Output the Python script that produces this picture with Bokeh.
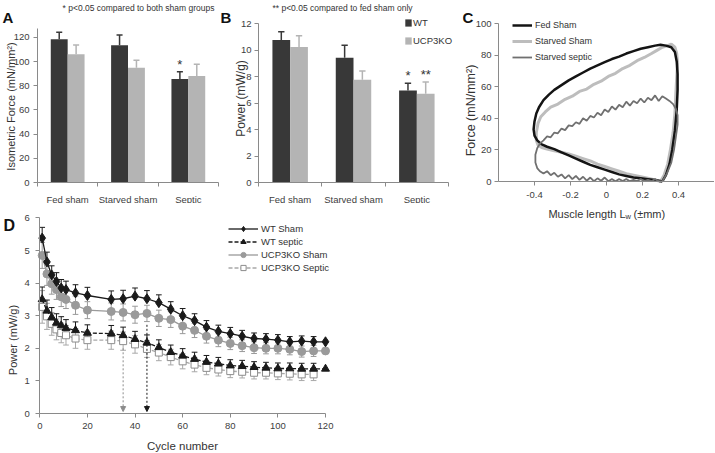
import math
from bokeh.plotting import figure
from bokeh.layouts import row, column
from bokeh.models import (FixedTicker, Label, Legend, LegendItem, Arrow, NormalHead,
                          Range1d, NumeralTickFormatter)
from bokeh.core.properties import value
from bokeh.embed import file_html
from bokeh.resources import INLINE

FONT = "Liberation Sans"
TXT = "#333333"
AX = "#8a8a8a"
DARK = "#383838"
LIGHT = "#b4b4b4"

# ---------------- data ----------------
groups = ["Fed sham", "Starved sham", "Septic"]
force_wt = [118.5, 113.5, 85.5]
force_wt_err = [5.7, 8.5, 6.1]
force_ko = [106.0, 95.0, 88.0]
force_ko_err = [7.7, 6.0, 9.8]
force_sig_wt = ["", "", "*"]
force_ticks = [0, 20, 40, 60, 80, 100, 120]

power_wt = [10.75, 9.42, 6.95]
power_wt_err = [0.62, 0.94, 0.55]
power_ko = [10.23, 7.76, 6.70]
power_ko_err = [0.84, 0.65, 0.88]
power_sig_wt = ["", "", "*"]
power_sig_ko = ["", "", "**"]
power_ticks = [0, 2, 4, 6, 8, 10, 12]

# work loops (panel C)
fed_sham_len = [0.31, 0.33, 0.35, 0.365, 0.38, 0.39, 0.395, 0.395, 0.39, 0.38,
                0.36, 0.33, 0.30, 0.27, 0.23, 0.19, 0.15, 0.11, 0.07, 0.03,
                -0.01, -0.05, -0.09, -0.13, -0.17, -0.21, -0.25, -0.29, -0.32, -0.35,
                -0.375, -0.39, -0.4, -0.405, -0.4, -0.385, -0.36, -0.33, -0.29, -0.25,
                -0.21, -0.17, -0.13, -0.09, -0.05, -0.01, 0.03, 0.07, 0.11, 0.15,
                0.19, 0.23, 0.27, 0.31]
fed_sham_force = [0, 4, 11, 20, 32, 45, 58, 68, 76, 82,
                  85, 86, 86.5, 86, 85, 84, 82.5, 81, 79, 77.5,
                  75.5, 73.5, 71.5, 69, 66.5, 64, 61, 58, 55, 51.5,
                  47, 43, 38, 33, 29, 26, 23.5, 22, 20.5, 18.5,
                  16.5, 14.5, 12.5, 10.5, 9, 7.5, 6, 4.5, 3.5, 2.5,
                  2, 1.5, 1, 0]
starved_sham_len = [0.30, 0.32, 0.34, 0.355, 0.37, 0.38, 0.385, 0.39, 0.395, 0.39,
                    0.38, 0.36, 0.34, 0.31, 0.28, 0.25, 0.21, 0.17, 0.13, 0.09,
                    0.05, 0.01, -0.03, -0.07, -0.11, -0.15, -0.19, -0.23, -0.27, -0.31,
                    -0.34, -0.365, -0.38, -0.39, -0.39, -0.38, -0.36, -0.33, -0.29, -0.25,
                    -0.21, -0.17, -0.13, -0.09, -0.05, -0.01, 0.03, 0.07, 0.11, 0.15,
                    0.19, 0.23, 0.27, 0.30]
starved_sham_force = [0, 4, 11, 20, 31, 43, 55, 66, 75, 81,
                      85, 87, 86, 85, 83, 81, 78.5, 76.5, 73.5, 71.5,
                      68.5, 66.5, 63.5, 61.5, 58.5, 57, 54, 52, 49, 47,
                      44, 41, 37, 31, 26, 23, 21.5, 20.5, 19.5, 18.5,
                      17.5, 16, 14.5, 13, 11, 9.5, 8, 6.5, 5, 4,
                      3, 2, 1, 0]
starved_septic_len = [0.31, 0.335, 0.36, 0.375, 0.385, 0.395, 0.395, 0.385, 0.37, 0.35,
                      0.33, 0.31, 0.29, 0.27, 0.25, 0.23, 0.21, 0.19, 0.17, 0.15,
                      0.13, 0.11, 0.09, 0.07, 0.05, 0.03, 0.01, -0.01, -0.03, -0.05,
                      -0.07, -0.09, -0.11, -0.13, -0.15, -0.17, -0.19, -0.21, -0.23, -0.25,
                      -0.27, -0.29, -0.31, -0.33, -0.35, -0.37, -0.385, -0.395, -0.395, -0.385,
                      -0.37, -0.35, -0.33, -0.31, -0.29, -0.27, -0.25, -0.23, -0.21, -0.19,
                      -0.17, -0.15, -0.13, -0.11, -0.09, -0.07, -0.05, -0.03, -0.01, 0.01,
                      0.03, 0.05, 0.07, 0.09, 0.11, 0.13, 0.15, 0.17, 0.19, 0.21,
                      0.23, 0.25, 0.27, 0.29, 0.31]
starved_septic_force = [0, 5, 12, 20, 28, 36, 42, 46, 49, 51,
                        52.5, 54, 51, 54.5, 51.5, 53, 50, 52.5, 49.5, 51,
                        48, 50.5, 47, 48.5, 45.5, 47.5, 44, 45.5, 42, 43.5,
                        40.5, 41.5, 38.5, 40, 36.5, 37.5, 35, 35.5, 32.5, 33.5,
                        30.5, 31, 28, 28.5, 26, 24, 21, 17, 12, 8.5,
                        6.5, 5, 6.5, 4, 5.5, 3, 4.5, 2, 4, 1.5,
                        3.5, 1, 3, 0.5, 2.5, 0.2, 2, 0.5, 2.5, 0.2,
                        1.5, 0.2, 1.5, 0.3, 1.5, 0.2, 1, 0.3, 1.5, 0.2,
                        1, 0.2, 1.5, 0.2, 0]

# fatigue (panel D)
cycles = [1, 3, 5, 7, 9, 11, 15, 20, 30, 35, 40, 45, 50, 55, 60, 65, 70, 75,
          80, 85, 90, 95, 100, 105, 110, 115, 120]
wt_sham = [5.38, 4.65, 4.25, 4.05, 3.85, 3.8, 3.7, 3.62, 3.5, 3.52, 3.6, 3.52, 3.4,
           3.2, 3.0, 2.85, 2.65, 2.52, 2.45, 2.37, 2.3, 2.28, 2.25, 2.2, 2.22, 2.2, 2.2]
wt_sham_err = [0.33, 0.3, 0.28, 0.27, 0.26, 0.26, 0.25, 0.25, 0.26, 0.26, 0.25, 0.25, 0.24,
               0.23, 0.22, 0.21, 0.2, 0.19, 0.19, 0.18, 0.17, 0.17, 0.17, 0.16, 0.16, 0.16, 0]
ko_sham = [4.85, 4.28, 3.98, 3.8, 3.58, 3.5, 3.32, 3.17, 3.13, 3.1, 3.03, 3.07, 2.92,
           2.88, 2.68, 2.55, 2.37, 2.25, 2.15, 2.08, 2.02, 2.0, 2.0, 1.97, 1.9, 1.92, 1.92]
ko_sham_err = [0.4, 0.35, 0.32, 0.3, 0.3, 0.28, 0.28, 0.26, 0.26, 0.26, 0.26, 0.25, 0.25,
               0.24, 0.23, 0.22, 0.21, 0.2, 0.19, 0.18, 0.18, 0.17, 0.17, 0.17, 0.17, 0.17, 0]
wt_septic = [3.5, 3.15, 2.95, 2.78, 2.7, 2.62, 2.55, 2.47, 2.45, 2.4, 2.28, 2.17, 2.03,
             1.88, 1.77, 1.67, 1.58, 1.53, 1.47, 1.45, 1.42, 1.4, 1.38, 1.38, 1.37, 1.37, 1.37]
wt_septic_err = [0.38, 0.33, 0.3, 0.28, 0.27, 0.26, 0.26, 0.25, 0.25, 0.25, 0.24, 0.24, 0.23,
                 0.22, 0.22, 0.21, 0.2, 0.19, 0.18, 0.18, 0.17, 0.17, 0.17, 0.17, 0.17, 0.17, 0]
ko_septic_cycles = cycles[:-1]
ko_septic = [3.27, 2.98, 2.75, 2.58, 2.47, 2.4, 2.3, 2.25, 2.25, 2.22, 2.12, 1.98, 1.87,
             1.73, 1.6, 1.5, 1.4, 1.35, 1.3, 1.28, 1.25, 1.25, 1.23, 1.22, 1.2, 1.2]
ko_septic_err = [0.5, 0.4, 0.35, 0.32, 0.3, 0.3, 0.3, 0.28, 0.28, 0.28, 0.27, 0.26, 0.25,
                 0.24, 0.23, 0.22, 0.21, 0.2, 0.2, 0.19, 0.19, 0.19, 0.19, 0.19, 0.19, 0.19]
arrow_cycles = [35, 45]
arrow_tops = [2.0, 2.72]


# ---------------- geometry helpers ----------------
class Geo:
    """Maps page pixels to a figure's data space. The figure's frame covers the
    whole figure; axes are drawn at fixed data locations."""

    def __init__(self, fx, fy, W, H, xa, ox, sx, ya, oy, sy):
        self.fx, self.fy, self.W, self.H = fx, fy, W, H
        self.sx, self.sy = sx, sy
        self.x0 = xa - (ox - fx) / sx
        self.x1 = self.x0 + W / sx
        self.y0 = ya - (fy + H - oy) / sy
        self.y1 = self.y0 + H / sy

    def dx(self, px):
        return self.x0 + (px - self.fx) / self.sx

    def dy(self, py):
        return self.y1 - (py - self.fy) / self.sy

    def legend_loc(self, left, top, height):
        return (left - self.fx, self.fy + self.H - top - height)


def new_fig(g):
    p = figure(width=g.W, height=g.H, title=None, x_range=Range1d(g.x0, g.x1),
               y_range=Range1d(g.y0, g.y1), output_backend="svg", toolbar_location=None,
               min_border=0, min_border_left=0, min_border_right=0,
               min_border_top=0, min_border_bottom=0)
    for ax in p.axis:
        ax.axis_line_color = AX
        ax.major_tick_line_color = AX
        ax.minor_tick_line_color = AX
        ax.major_tick_in = 0
        ax.major_tick_out = 4
        ax.minor_tick_in = 0
        ax.minor_tick_out = 0
        ax.major_label_text_font = FONT
        ax.major_label_text_font_size = "9.5px"
        ax.major_label_text_color = "#404040"
    p.xgrid.visible = False
    p.ygrid.visible = False
    p.outline_line_color = None
    return p


def add_label(p, g, px, py, text, size, bold=False, angle=0, align="left",
              baseline="alphabetic", x_offset=0, y_offset=0, color=TXT):
    p.add_layout(Label(x=g.dx(px), y=g.dy(py), text=text, text_font=FONT, text_font_size=size,
                       text_font_style="bold" if bold else "normal", angle=angle,
                       text_align=align, text_baseline=baseline, text_color=color,
                       x_offset=x_offset, y_offset=y_offset))


def bar_panel(g, wt, wt_err, ko, ko_err, ytop, yticks, tick_standoff):
    p = new_fig(g)
    centers = [i + 0.5 for i in range(len(groups))]
    xw = [c - 0.14 for c in centers]
    xk = [c + 0.14 for c in centers]
    r_wt = p.vbar(x=xw, top=wt, width=0.28, fill_color=DARK, line_color=None)
    r_ko = p.vbar(x=xk, top=ko, width=0.28, fill_color=LIGHT, line_color=None)
    for xs, vals, errs, col in ((xw, wt, wt_err, DARK), (xk, ko, ko_err, LIGHT)):
        tops = [v + e for v, e in zip(vals, errs)]
        p.segment(x0=xs, y0=vals, x1=xs, y1=tops, line_color=col, line_width=1.5)
        p.segment(x0=[x - 0.05 for x in xs], y0=tops, x1=[x + 0.05 for x in xs], y1=tops,
                  line_color=col, line_width=1.5)
    p.xaxis.fixed_location = 0
    p.xaxis.bounds = (0, 3)
    p.xaxis.ticker = FixedTicker(ticks=centers, minor_ticks=[0, 1, 2, 3])
    p.xaxis.major_label_overrides = {c: gname for c, gname in zip(centers, groups)}
    p.xaxis.major_tick_out = 0
    p.xaxis.minor_tick_out = 4
    p.xaxis.major_label_standoff = 7
    p.yaxis.fixed_location = 0
    p.yaxis.bounds = (0, ytop)
    p.yaxis.ticker = FixedTicker(ticks=yticks)
    p.yaxis.major_label_standoff = tick_standoff
    return p, xw, xk, r_wt, r_ko


def stars(p, xs, vals, errs, marks):
    p.text(x=xs, y=[v + e for v, e in zip(vals, errs)], text=marks,
           text_align="center", text_baseline="bottom", text_font_size="13px",
           text_color=TXT, text_font=value(FONT))


# ---------------- panel A ----------------
gA = Geo(0, 0, 220, 203, 0, 37, 181 / 3, 0, 182, 145.1 / 120)
pA, xwA, xkA, _, _ = bar_panel(gA, force_wt, force_wt_err, force_ko, force_ko_err, 127,
                               force_ticks, 4)
stars(pA, xwA, force_wt, force_wt_err, force_sig_wt)
add_label(pA, gA, 2, 17, "A", "15px", bold=True, color="#111111")
add_label(pA, gA, 138, 7, "* p<0.05 compared to both sham groups", "8.5px",
          align="center", baseline="middle")
add_label(pA, gA, 10.5, 106, "Isometric Force (mN/mm²)", "11px", angle=math.pi / 2,
          align="center", baseline="middle")

# ---------------- panel B ----------------
gB = Geo(220, 0, 242, 203, 0, 258, 190 / 3, 0, 182, 159 / 12)
pB, xwB, xkB, rbw, rbk = bar_panel(gB, power_wt, power_wt_err, power_ko, power_ko_err, 12,
                                   power_ticks, 3)
stars(pB, xwB, power_wt, power_wt_err, power_sig_wt)
stars(pB, xkB, power_ko, power_ko_err, power_sig_ko)
pB.add_layout(Legend(items=[LegendItem(label="WT", renderers=[rbw]),
                            LegendItem(label="UCP3KO", renderers=[rbk])],
                     location=gB.legend_loc(404, 20.5, 25), glyph_width=8, glyph_height=9,
                     label_height=9, spacing=7, padding=0, margin=0, label_standoff=1,
                     label_text_font=FONT, label_text_font_size="9.5px", label_text_color=TXT,
                     border_line_color=None, background_fill_alpha=0))
add_label(pB, gB, 220, 17, "B", "15px", bold=True, color="#111111")
add_label(pB, gB, 342, 7, "** p<0.05 compared to fed sham only", "8.5px",
          align="center", baseline="middle")
add_label(pB, gB, 240, 98, "Power (mW/g)", "12px", angle=math.pi / 2,
          align="center", baseline="middle")

# ---------------- panel C ----------------
gC = Geo(462, 0, 252, 452, -0.6, 498, 180, 0, 181, 1.58)
pC = new_fig(gC)
pC.xaxis.fixed_location = 0
pC.xaxis.bounds = (-0.6, 0.6)
pC.xaxis.ticker = FixedTicker(ticks=[-0.4, -0.2, 0, 0.2, 0.4])
pC.xaxis.formatter = NumeralTickFormatter(format="0.[0]")
pC.xaxis.major_label_standoff = 6
pC.yaxis.fixed_location = -0.6
pC.yaxis.bounds = (0, 100)
pC.yaxis.ticker = FixedTicker(ticks=[0, 20, 40, 60, 80, 100])
pC.yaxis.major_label_standoff = 3
r_ss = pC.line(starved_sham_len, starved_sham_force, line_color="#bdbdbd", line_width=3)
r_fs = pC.line(fed_sham_len, fed_sham_force, line_color="#141414", line_width=2.5)
r_sp = pC.line(starved_septic_len, starved_septic_force, line_color="#707070", line_width=1.8)
pC.add_layout(Legend(items=[LegendItem(label="Fed Sham", renderers=[r_fs]),
                            LegendItem(label="Starved Sham", renderers=[r_ss]),
                            LegendItem(label="Starved septic", renderers=[r_sp])],
                     location=gC.legend_loc(512, 18, 46), glyph_width=20, glyph_height=14,
                     label_height=14, spacing=2, padding=0, margin=0, label_standoff=3,
                     label_text_font=FONT, label_text_font_size="9px", label_text_color=TXT,
                     border_line_color=None, background_fill_alpha=0))
add_label(pC, gC, 462, 17, "C", "15px", bold=True, color="#111111")
add_label(pC, gC, 470, 110, "Force (mN/mm²)", "12.5px", angle=math.pi / 2,
          align="center", baseline="middle")
add_label(pC, gC, 625, 213, "Muscle length L", "11px", align="right", baseline="middle")
add_label(pC, gC, 625, 213, "w", "7.5px", align="left", baseline="middle", y_offset=-3)
add_label(pC, gC, 625, 213, "(±mm)", "11px", align="left", baseline="middle", x_offset=8)

# ---------------- panel D ----------------
gD = Geo(0, 203, 462, 249, 0, 39.3, 285.7 / 120, 0, 413, 195.6 / 6)
pD = new_fig(gD)
pD.xaxis.fixed_location = 0
pD.xaxis.bounds = (0, 120)
pD.xaxis.ticker = FixedTicker(ticks=[0, 20, 40, 60, 80, 100, 120])
pD.xaxis.major_label_standoff = 5
pD.yaxis.fixed_location = 0
pD.yaxis.bounds = (0, 6)
pD.yaxis.ticker = FixedTicker(ticks=[0, 1, 2, 3, 4, 5, 6])
pD.yaxis.major_label_standoff = 6


def err_bars(p, xs, ys, errs, color, up=True, down=False, cap=1.2):
    pts = [(x, y, e) for x, y, e in zip(xs, ys, errs) if e > 0]
    for sign, use in ((1, up), (-1, down)):
        if not use:
            continue
        ends = [y + sign * e for _, y, e in pts]
        px = [x for x, _, _ in pts]
        py = [y for _, y, _ in pts]
        p.segment(x0=px, y0=py, x1=px, y1=ends, line_color=color, line_width=1)
        p.segment(x0=[x - cap for x in px], y0=ends, x1=[x + cap for x in px], y1=ends,
                  line_color=color, line_width=1)


KO = "#9a9a9a"
err_bars(pD, ko_septic_cycles, ko_septic, ko_septic_err, "#a8a8a8", up=True, down=True)
err_bars(pD, cycles, ko_sham, ko_sham_err, KO, up=True, down=True)
err_bars(pD, cycles, wt_septic, wt_septic_err, "#1a1a1a", up=True)
err_bars(pD, cycles, wt_sham, wt_sham_err, "#1a1a1a", up=True)

for xs, top, col in zip(arrow_cycles, arrow_tops, ["#8c8c8c", "#1a1a1a"]):
    pD.add_layout(Arrow(end=NormalHead(size=5, fill_color=col, line_color=col, line_width=1),
                        x_start=xs, y_start=top, x_end=xs, y_end=0.06,
                        line_color=col, line_width=1, line_dash="2 2"))

l4 = pD.line(ko_septic_cycles, ko_septic, line_color="#a8a8a8", line_width=1.3, line_dash="4 2")
s4 = pD.scatter(ko_septic_cycles, ko_septic, marker="square", size=7, fill_color="white",
                line_color="#8c8c8c", line_width=1)
l3 = pD.line(cycles, ko_sham, line_color=KO, line_width=1.3)
s3 = pD.scatter(cycles, ko_sham, marker="circle", size=8, fill_color=KO, line_color=KO)
l2 = pD.line(cycles, wt_septic, line_color="#1a1a1a", line_width=1.3, line_dash="4 2")
s2 = pD.scatter(cycles, wt_septic, marker="triangle", size=8, fill_color="#1a1a1a",
                line_color="#1a1a1a")
l1 = pD.line(cycles, wt_sham, line_color="#1a1a1a", line_width=1.3)
s1 = pD.scatter(cycles, wt_sham, marker="diamond", size=10, fill_color="#1a1a1a",
                line_color="#1a1a1a")
pD.add_layout(Legend(items=[LegendItem(label="WT Sham", renderers=[l1, s1]),
                            LegendItem(label="WT septic", renderers=[l2, s2]),
                            LegendItem(label="UCP3KO Sham", renderers=[l3, s3]),
                            LegendItem(label="UCP3KO Septic", renderers=[l4, s4])],
                     location=gD.legend_loc(228, 222, 52), glyph_width=30, glyph_height=13,
                     label_height=13, spacing=0, padding=0, margin=0, label_standoff=3,
                     label_text_font=FONT, label_text_font_size="9.5px", label_text_color=TXT,
                     border_line_color=None, background_fill_alpha=0))
add_label(pD, gD, 3, 225, "D", "16px", bold=True, color="#111111")
add_label(pD, gD, 12.5, 338, "Power  (mW/g)", "11px", angle=math.pi / 2,
          align="center", baseline="middle")
add_label(pD, gD, 182, 445, "Cycle number", "11.5px", align="center", baseline="middle")

layout = row(column(row(pA, pB), pD), pC)

with open("out.html", "w") as f:
    f.write(file_html(layout, INLINE))
